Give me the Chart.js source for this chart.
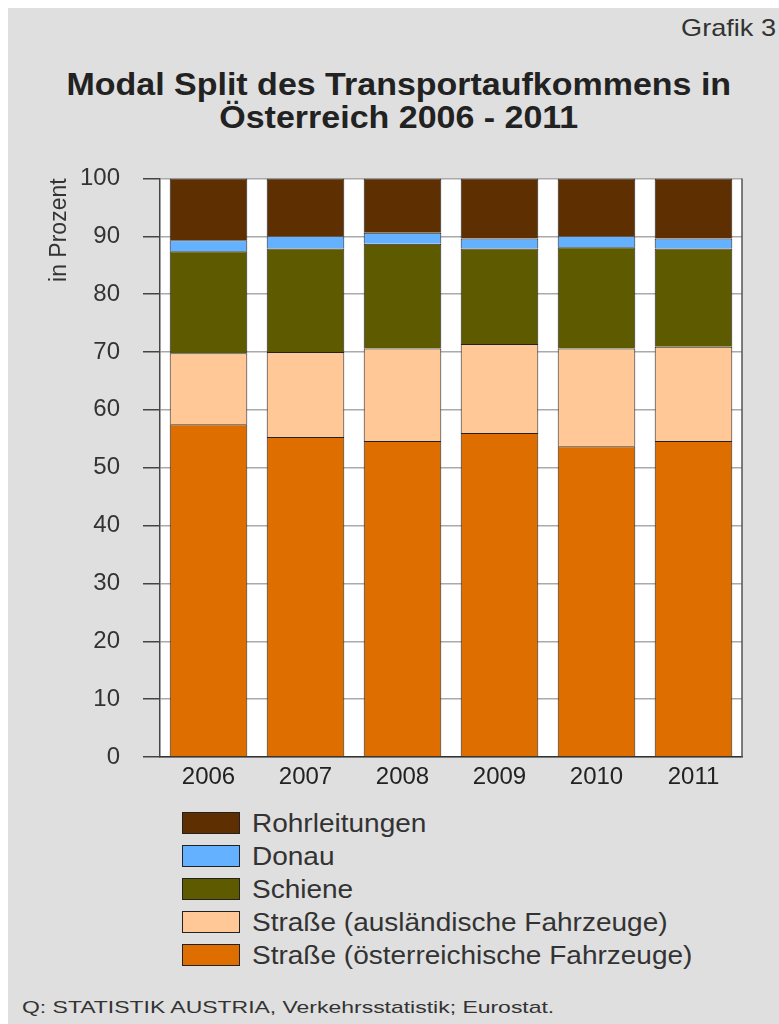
<!DOCTYPE html>
<html>
<head>
<meta charset="utf-8">
<script src="https://cdn.jsdelivr.net/npm/chart.js@4"></script>
<style>
  body { margin: 0; background: #fff; font-family: "Liberation Sans", Arial, sans-serif; }
  #page { position: absolute; left: 8px; top: 8px; width: 771px; height: 1016px; background: #dfdfdf; }
  #grafik { position: absolute; right: 3px; top: 14px; font-size: 24px; color: #333;
            transform: scaleX(1.13); transform-origin: right center; }
  #title { position: absolute; left: 9px; width: 779px; top: 68px; text-align: center;
           font-size: 32px; font-weight: bold; line-height: 33px; color: #222;
           transform: scaleX(1.062); transform-origin: 385px 0; }
  #wrap { position: absolute; left: 0; top: 141px; width: 779px; height: 659px; }
  #legend { position: absolute; left: 182px; top: 812px; }
  .item { height: 33px; display: flex; align-items: flex-start; }
  .box { width: 56px; height: 20px; border: 1.5px solid #222; margin-right: 12px; flex: none; }
  .lbl { font-size: 25px; color: #333; line-height: 23px; white-space: nowrap;
         transform: scaleX(1.12); transform-origin: left center; }
  #source { position: absolute; left: 22px; top: 998px; font-size: 17px; color: #333; white-space: nowrap;
            transform: scaleX(1.35); transform-origin: left center; }
</style>
</head>
<body>
<div id="page"></div>
<div id="grafik">Grafik 3</div>
<div id="title">Modal Split des Transportaufkommens in<br>Österreich 2006 - 2011</div>
<div id="wrap"><canvas id="chart"></canvas></div>
<div id="legend"></div>
<div id="source">Q: STATISTIK AUSTRIA, Verkehrsstatistik; Eurostat.</div>
<script>
const years = ['2006', '2007', '2008', '2009', '2010', '2011'];
const strasseAT = [57.5, 55.3, 54.6, 56.0, 53.7, 54.6];
const strasseAusl = [12.3, 14.7, 16.0, 15.4, 16.9, 16.3];
const schiene = [17.6, 17.9, 18.1, 16.5, 17.5, 17.0];
const donau = [1.9, 2.1, 1.9, 1.7, 1.9, 1.7];
const rohr = [10.7, 10.0, 9.4, 10.4, 10.0, 10.4];

// weisser Hintergrund fuer die Zeichenflaeche + rechter Rand
const plotBg = {
  id: 'plotBg',
  beforeDraw(chart) {
    const a = chart.chartArea, c = chart.ctx;
    c.save();
    c.fillStyle = '#fff';
    c.fillRect(a.left, a.top, a.right - a.left, a.bottom - a.top);
    c.restore();
  },
  afterDraw(chart) {
    const a = chart.chartArea, c = chart.ctx;
    c.save();
    c.strokeStyle = '#555';
    c.lineWidth = 1.5;
    c.beginPath();
    c.moveTo(a.right, a.top);
    c.lineTo(a.right, a.bottom);
    c.stroke();
    c.restore();
  }
};

const ds = (label, data, color) => ({
  label: label,
  data: data,
  backgroundColor: color,
  borderColor: '#222',
  borderWidth: 1,
  barPercentage: 0.8,
  categoryPercentage: 1
});

const chart = new Chart(document.getElementById('chart'), {
  type: 'bar',
  data: {
    labels: years,
    datasets: [
      ds('Straße (österreichische Fahrzeuge)', strasseAT, '#de6e00'),
      ds('Straße (ausländische Fahrzeuge)', strasseAusl, '#ffc896'),
      ds('Schiene', schiene, '#5e5a00'),
      ds('Donau', donau, '#63b1ff'),
      ds('Rohrleitungen', rohr, '#5e2f00')
    ]
  },
  plugins: [plotBg],
  options: {
    responsive: true,
    maintainAspectRatio: false,
    animation: false,
    layout: { padding: { left: 46, right: 37, top: 0, bottom: 0 } },
    plugins: {
      legend: { display: false },
      tooltip: { enabled: false }
    },
    scales: {
      x: {
        stacked: true,
        grid: { display: false, drawTicks: false },
        border: { color: '#333', width: 1.5 },
        ticks: { font: { family: 'Liberation Sans', size: 24 }, color: '#222', padding: 6 },
        afterFit: s => { s.height = 43; }
      },
      y: {
        stacked: true,
        min: 0,
        max: 100,
        ticks: { stepSize: 10, font: { family: 'Liberation Sans', size: 24 }, color: '#333', padding: 23 },
        grid: { color: '#aaa', tickColor: '#444', tickLength: 17, lineWidth: 1.5 },
        border: { color: '#444', width: 1.5 },
        title: { display: true, text: 'in Prozent', align: 'end', color: '#333',
                 font: { family: 'Liberation Sans', size: 23 }, padding: 0 },
        afterFit: s => { s.width = 114; }
      }
    }
  }
});

// Legende (umgekehrte Reihenfolge wie im Original)
const legend = document.getElementById('legend');
chart.data.datasets.slice().reverse().forEach(d => {
  const row = document.createElement('div');
  row.className = 'item';
  row.innerHTML = '<div class="box" style="background:' + d.backgroundColor + '"></div><div class="lbl">' + d.label + '</div>';
  legend.appendChild(row);
});
</script>
</body>
</html>
